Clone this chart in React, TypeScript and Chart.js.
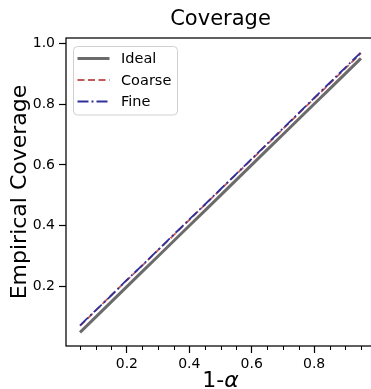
import React, { useEffect, useRef } from "react";
import { Chart, registerables } from "chart.js";

Chart.register(...registerables);

// ---- data ----
const levels = [0.05, 0.1, 0.15, 0.2, 0.25, 0.3, 0.35, 0.4, 0.45, 0.5, 0.55, 0.6, 0.65, 0.7, 0.75, 0.8, 0.85, 0.9, 0.95];
const idealCoverage = [0.05, 0.1, 0.15, 0.2, 0.25, 0.3, 0.35, 0.4, 0.45, 0.5, 0.55, 0.6, 0.65, 0.7, 0.75, 0.8, 0.85, 0.9, 0.95];
const coarseCoverage = [0.071, 0.121, 0.172, 0.221, 0.27, 0.32, 0.369, 0.419, 0.469, 0.519, 0.569, 0.618, 0.668, 0.718, 0.768, 0.818, 0.867, 0.917, 0.967];
const fineCoverage = [0.073, 0.122, 0.171, 0.222, 0.271, 0.321, 0.371, 0.421, 0.47, 0.52, 0.57, 0.62, 0.67, 0.72, 0.77, 0.82, 0.87, 0.92, 0.97];
const seriesNames = ["Ideal", "Coarse", "Fine"];
const xMajorTicks = [0.2, 0.4, 0.6, 0.8];
const xMinorTicks = [0.05, 0.1, 0.15, 0.25, 0.3, 0.35, 0.45, 0.5, 0.55, 0.65, 0.7, 0.75, 0.85, 0.9, 0.95];
const yMajorTicks = [0.2, 0.4, 0.6, 0.8, 1.0];
const chartTitle = "Coverage";
const yTitle = "Empirical Coverage";
const xTitlePlain = "1-";
const xTitleGreek = "α";

const FONT = "'DejaVu Sans', sans-serif";

const pts = (ys: number[]) => levels.map((x, i) => ({ x, y: ys[i] }));

const decor = {
  id: "decor",
  afterDraw(chart: any) {
    const { ctx, chartArea: a, scales } = chart;
    ctx.save();
    // spines
    ctx.strokeStyle = "#000";
    ctx.lineWidth = 1.25;
    ctx.setLineDash([]);
    ctx.strokeRect(a.left, a.top, a.right - a.left, a.bottom - a.top);
    // minor x ticks
    ctx.lineWidth = 1;
    const xs = scales.x;
    for (const v of xMinorTicks) {
      const px = Math.round(xs.getPixelForValue(v)) + 0.5;
      ctx.beginPath();
      ctx.moveTo(px, a.bottom);
      ctx.lineTo(px, a.bottom + 4);
      ctx.stroke();
    }
    // title
    const cx = (a.left + a.right) / 2;
    ctx.fillStyle = "#000";
    ctx.textAlign = "center";
    ctx.textBaseline = "alphabetic";
    ctx.font = `21px ${FONT}`;
    ctx.fillText(chartTitle, cx, 25);
    // y title
    ctx.save();
    ctx.translate(26, (a.top + a.bottom) / 2);
    ctx.rotate(-Math.PI / 2);
    ctx.font = `22px ${FONT}`;
    ctx.fillText(yTitle, 0, 0);
    ctx.restore();
    // x title
    ctx.font = `22px ${FONT}`;
    const w1 = ctx.measureText(xTitlePlain).width;
    ctx.font = `italic 22px ${FONT}`;
    const w2 = ctx.measureText(xTitleGreek).width;
    const sx = cx - (w1 + w2) / 2;
    ctx.textAlign = "left";
    ctx.font = `22px ${FONT}`;
    ctx.fillText(xTitlePlain, sx, 387);
    ctx.font = `italic 22px ${FONT}`;
    ctx.fillText(xTitleGreek, sx + w1, 387);
    // legend
    const lx = 73.5, ly = 46.5, lw = 104, lh = 68.5, r = 4;
    ctx.beginPath();
    ctx.moveTo(lx + r, ly);
    ctx.arcTo(lx + lw, ly, lx + lw, ly + lh, r);
    ctx.arcTo(lx + lw, ly + lh, lx, ly + lh, r);
    ctx.arcTo(lx, ly + lh, lx, ly, r);
    ctx.arcTo(lx, ly, lx + lw, ly, r);
    ctx.closePath();
    ctx.fillStyle = "rgba(255,255,255,0.8)";
    ctx.fill();
    ctx.strokeStyle = "#d0d0d0";
    ctx.lineWidth = 1;
    ctx.stroke();
    const rows = [58.5, 80, 101.5];
    ctx.font = `14.5px ${FONT}`;
    ctx.textBaseline = "middle";
    chart.data.datasets.forEach((ds: any, i: number) => {
      ctx.beginPath();
      ctx.strokeStyle = ds.borderColor;
      ctx.lineWidth = ds.borderWidth;
      ctx.setLineDash(ds.borderDash || []);
      ctx.moveTo(77.5, rows[i]);
      ctx.lineTo(109.5, rows[i]);
      ctx.stroke();
      ctx.setLineDash([]);
      ctx.fillStyle = "#000";
      ctx.fillText(ds.label, 121, rows[i] + 1);
    });
    ctx.restore();
  },
};

export default function App() {
  const ref = useRef<HTMLCanvasElement | null>(null);
  useEffect(() => {
    if (!ref.current) return;
    const tickFont = { family: FONT, size: 14 };
    const chart = new Chart(ref.current, {
      type: "line",
      data: {
        datasets: [
          {
            label: seriesNames[0],
            data: pts(idealCoverage),
            borderColor: "#6b6b6b",
            borderWidth: 3,
            pointRadius: 0,
            tension: 0,
            order: 3,
          },
          {
            label: seriesNames[1],
            data: pts(coarseCoverage),
            borderColor: "#c25a5a",
            borderWidth: 1.8,
            borderDash: [7, 3.5],
            pointRadius: 0,
            tension: 0,
            order: 2,
          },
          {
            label: seriesNames[2],
            data: pts(fineCoverage),
            borderColor: "#30309a",
            borderWidth: 1.8,
            borderDash: [11, 3, 2, 3],
            pointRadius: 0,
            tension: 0,
            order: 1,
          },
        ],
      },
      options: {
        animation: false,
        responsive: false,
        devicePixelRatio: 1,
        layout: { padding: { top: 38, right: 5, left: 0, bottom: 0 } },
        plugins: { legend: { display: false }, title: { display: false }, tooltip: { enabled: false } },
        scales: {
          x: {
            type: "linear",
            min: 0.005,
            max: 0.995,
            afterBuildTicks: (s: any) => {
              s.ticks = xMajorTicks.map((v) => ({ value: v }));
            },
            afterFit: (s: any) => {
              s.height = 43;
            },
            ticks: {
              font: tickFont,
              color: "#000",
              padding: 3,
              maxRotation: 0,
              autoSkip: false,
              callback: (v: any) => Number(v).toFixed(1),
            },
            grid: { drawOnChartArea: false, drawTicks: true, tickLength: 7, tickColor: "#000", tickWidth: 1.2 },
            border: { display: false },
          },
          y: {
            type: "linear",
            min: 0.005,
            max: 1.017,
            afterBuildTicks: (s: any) => {
              s.ticks = yMajorTicks.map((v) => ({ value: v }));
            },
            afterFit: (s: any) => {
              s.width = 66;
            },
            ticks: {
              font: tickFont,
              color: "#000",
              padding: 4,
              autoSkip: false,
              callback: (v: any) => Number(v).toFixed(1),
            },
            grid: { drawOnChartArea: false, drawTicks: true, tickLength: 7, tickColor: "#000", tickWidth: 1.2 },
            border: { display: false },
          },
        },
      },
      plugins: [decor],
    });
    return () => chart.destroy();
  }, []);
  return (
    <div style={{ position: "fixed", left: 0, top: 0, width: 371, height: 389, overflow: "hidden", background: "#fff" }}>
      <canvas ref={ref} width={380} height={389} style={{ display: "block" }} />
    </div>
  );
}
